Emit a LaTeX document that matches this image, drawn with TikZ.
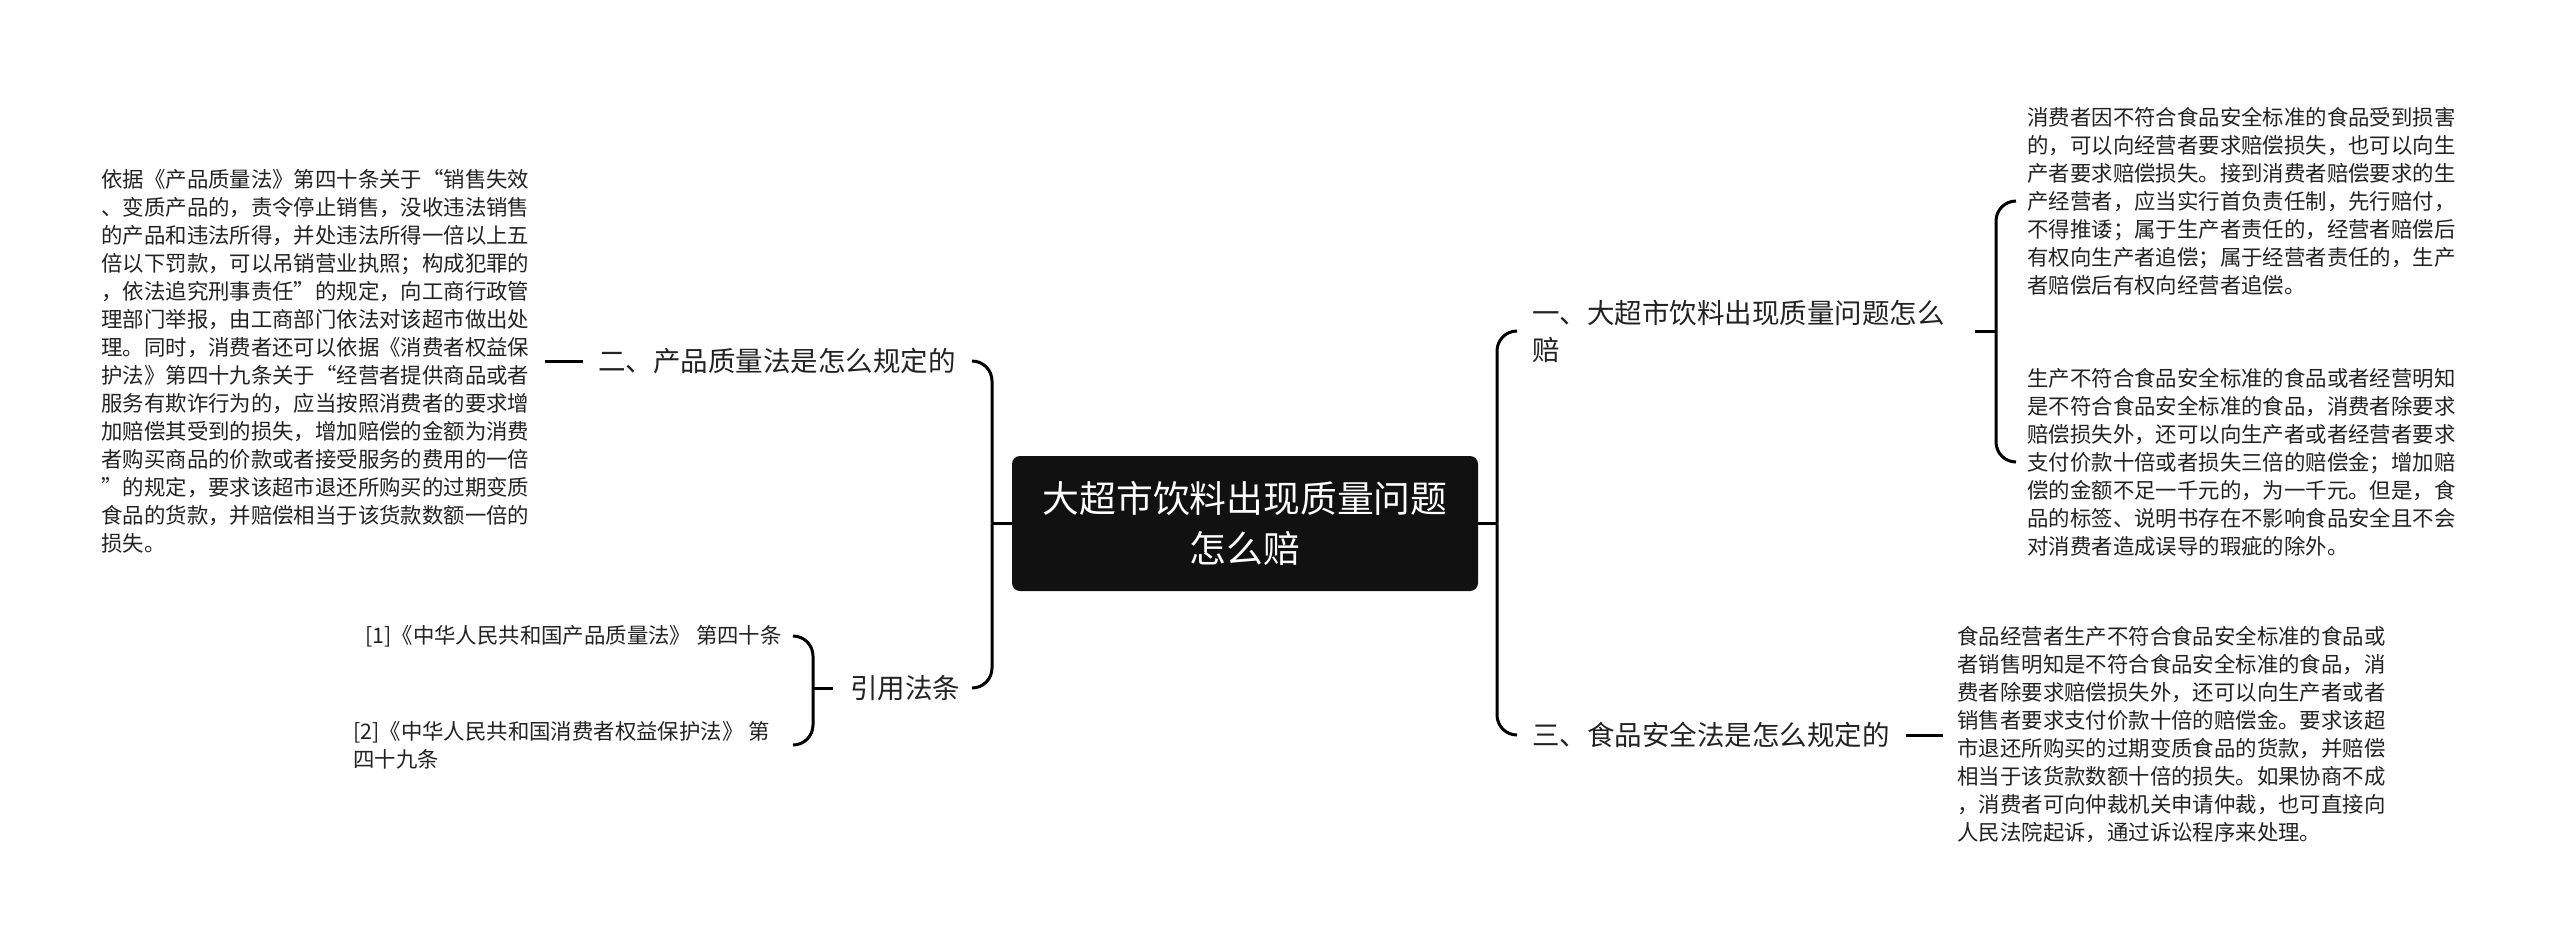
\documentclass[tikz,border=0pt]{standalone}
\usepackage{fontspec}
\setmainfont{Noto Sans CJK SC}
\definecolor{txt}{HTML}{222222}
\definecolor{rootfill}{HTML}{111111}
\tikzset{
  conn/.style={draw=black, line width=1.5pt},
  rc/.style={rounded corners=10pt},
  para/.style={anchor=west, inner sep=0pt, align=left, text=txt, font=\fontsize{10.7}{14}\selectfont},
  branch/.style={anchor=west, inner sep=0pt, align=left, text=txt, font=\fontsize{13.75}{18.5}\selectfont},
  rootnode/.style={fill=rootfill, rounded corners=4pt, minimum width=233pt, minimum height=67.5pt, inner sep=0pt, text=white, align=center, font=\fontsize{18.4}{25}\selectfont}
}
\begin{document}
\begin{tikzpicture}[x=0.5pt,y=-0.5pt]
\useasboundingbox (0,0) rectangle (2560,949);
% nodes
\node[rootnode] (root) at (1245,523.5) {大超市饮料出现质量问题\\怎么赔};
\node[branch] (b1) at (1532,331) {一、大超市饮料出现质量问题怎么\\赔};
\node[branch] (b3) at (1532,735) {三、食品安全法是怎么规定的};
\node[branch] (b2) at (598,361) {二、产品质量法是怎么规定的};
\node[branch] (b4) at (850,688) {引用法条};
\node[para] (c11) at (2027,201) {消费者因不符合食品安全标准的食品受到损害\\的，可以向经营者要求赔偿损失，也可以向生\\产者要求赔偿损失。接到消费者赔偿要求的生\\产经营者，应当实行首负责任制，先行赔付，\\不得推诿；属于生产者责任的，经营者赔偿后\\有权向生产者追偿；属于经营者责任的，生产\\者赔偿后有权向经营者追偿。};
\node[para] (c12) at (2027,462) {生产不符合食品安全标准的食品或者经营明知\\是不符合食品安全标准的食品，消费者除要求\\赔偿损失外，还可以向生产者或者经营者要求\\支付价款十倍或者损失三倍的赔偿金；增加赔\\偿的金额不足一千元的，为一千元。但是，食\\品的标签、说明书存在不影响食品安全且不会\\对消费者造成误导的瑕疵的除外。};
\node[para] (c31) at (1957,735) {食品经营者生产不符合食品安全标准的食品或\\者销售明知是不符合食品安全标准的食品，消\\费者除要求赔偿损失外，还可以向生产者或者\\销售者要求支付价款十倍的赔偿金。要求该超\\市退还所购买的过期变质食品的货款，并赔偿\\相当于该货款数额十倍的损失。如果协商不成\\，消费者可向仲裁机关申请仲裁，也可直接向\\人民法院起诉，通过诉讼程序来处理。};
\node[para] (l1) at (101,361) {依据《产品质量法》第四十条关于“销售失效\\、变质产品的，责令停止销售，没收违法销售\\的产品和违法所得，并处违法所得一倍以上五\\倍以下罚款，可以吊销营业执照；构成犯罪的\\，依法追究刑事责任”的规定，向工商行政管\\理部门举报，由工商部门依法对该超市做出处\\理。同时，消费者还可以依据《消费者权益保\\护法》第四十九条关于“经营者提供商品或者\\服务有欺诈行为的，应当按照消费者的要求增\\加赔偿其受到的损失，增加赔偿的金额为消费\\者购买商品的价款或者接受服务的费用的一倍\\”的规定，要求该超市退还所购买的过期变质\\食品的货款，并赔偿相当于该货款数额一倍的\\损失。};
\node[para] (r1) at (365,636) {[1]《中华人民共和国产品质量法》 第四十条};
\node[para] (r2) at (353,745) {[2]《中华人民共和国消费者权益保护法》 第\\四十九条};
% helper coordinates
\coordinate (rt) at (1497,523.5);
\coordinate (lt) at (992,523.5);
\coordinate (bt1) at (1996,331);
\coordinate (ct) at (813,688);
\coordinate (rbx0) at (1517,0);
\coordinate (rbx) at (2016,0);
\coordinate (lbx) at (972,0);
\coordinate (cbx) at (793,0);
\coordinate (c3x) at (1943,0);
\coordinate (l1x) at (545,0);
% connectors
\draw[conn] (root.east) -- (rt);
\draw[conn,rc] (rt) |- (b1.west -| rbx0);
\draw[conn,rc] (rt) |- (b3.west -| rbx0);
\draw[conn] (root.west) -- (lt);
\draw[conn,rc] (lt) |- (b2.east -| lbx);
\draw[conn,rc] (lt) |- (b4.east -| lbx);
\draw[conn] ([xshift=15pt]b1.east) -- (bt1);
\draw[conn,rc] (bt1) |- (c11.west -| rbx);
\draw[conn,rc] (bt1) |- (c12.west -| rbx);
\draw[conn] ([xshift=8pt]b3.east) -- (c31.west -| c3x);
\draw[conn] ([xshift=-7.5pt]b2.west) -- (l1.east -| l1x);
\draw[conn] ([xshift=-8.5pt]b4.west) -- (ct);
\draw[conn,rc] (ct) |- (r1.east -| cbx);
\draw[conn,rc] (ct) |- (r2.east -| cbx);
\end{tikzpicture}
\end{document}
